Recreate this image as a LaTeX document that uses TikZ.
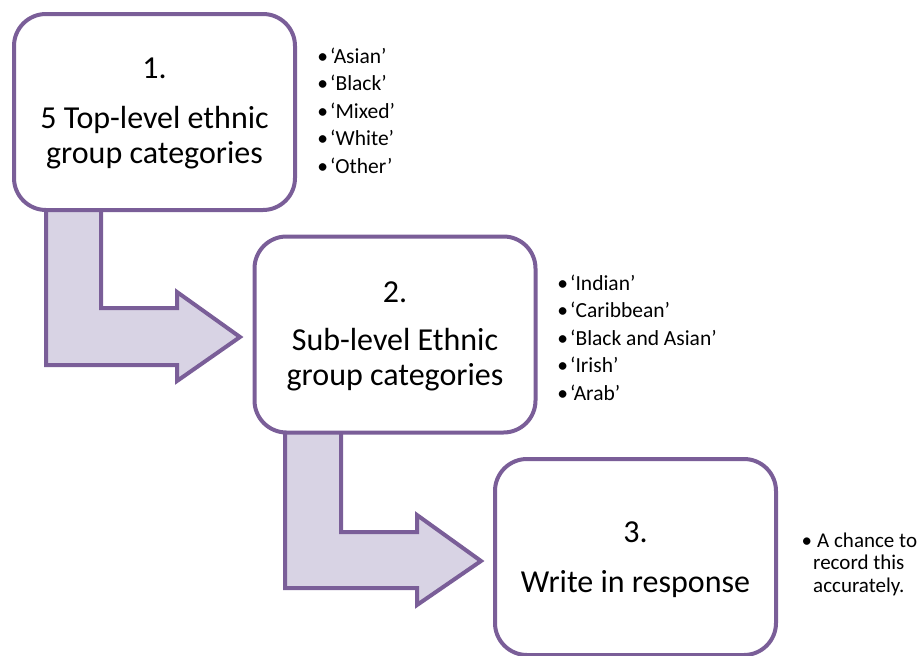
\documentclass[tikz,border=0pt]{standalone}
\usepackage{fontspec}
\setmainfont{Carlito}
\definecolor{pp}{HTML}{7A5E98}
\definecolor{lav}{HTML}{D8D3E4}
\pgfdeclarelayer{background}
\pgfsetlayers{background,main}
\begin{document}
\begin{tikzpicture}[x=1pt,y=-1pt,
  box/.style={draw=pp, line width=4pt, fill=white, rounded corners=32pt,
    minimum width=281pt, minimum height=196pt, inner sep=0pt},
  barrow/.style={draw=pp, line width=4pt, fill=lav, line join=miter},
  big/.style={font=\fontsize{32}{35}\selectfont, anchor=base, inner sep=0pt},
  item/.style={font=\fontsize{21.5}{23}\selectfont, anchor=base west, inner sep=0pt},
  note/.style={font=\fontsize{21}{23}\selectfont, anchor=base west, inner sep=0pt}]
\useasboundingbox (0,0) rectangle (922,656);
% boxes
\node[box] (b1) at (154.5,112) {};
\node[box] (b2) at (395,334.5) {};
\node[box] (b3) at (635.5,557) {};
% bent arrows behind the boxes
\begin{pgfonlayer}{background}
\draw[barrow] (46,200) -- (101,200) -- (101,308) -- (177,308) -- (177,292)
  -- (240,337) -- (177,381) -- (177,365) -- (46,365) -- cycle;
\draw[barrow] (285,420) -- (341,420) -- (341,532) -- (417,532) -- (417,515)
  -- (481,561) -- (417,605) -- (417,588) -- (285,588) -- cycle;
\end{pgfonlayer}
% box texts
\node[big] (t1a) at (154.5,78) {1.};
\node[big] (t1b) at (154.5,128) {5 Top-level ethnic};
\node[big] (t1c) at (154.5,163) {group categories};
\node[big] (t2a) at (395,302) {2.};
\node[big] (t2b) at (395,350) {Sub-level Ethnic};
\node[big] (t2c) at (395,385) {group categories};
\node[big] (t3a) at (635.5,542) {3.};
\node[big] (t3b) at (635.5,592) {Write in response};
% lists
\foreach \t [count=\i] in {‘Asian’,‘Black’,‘Mixed’,‘White’,‘Other’}
  \node[item] (a\i) at (330,{63+27.5*(\i-1)}) {\llap{•\hspace{2pt}}\t};
\foreach \t [count=\i] in {‘Indian’,‘Caribbean’,‘Black and Asian’,‘Irish’,‘Arab’}
  \node[item] (c\i) at (570,{290+27.5*(\i-1)}) {\llap{•\hspace{2pt}}\t};
\node[note] (d1) at (817,547) {\llap{•\hspace{5pt}}A chance to};
\node[note] (d2) at (813,569.5) {record this};
\node[note] (d3) at (813,592) {accurately.};
\end{tikzpicture}
\end{document}
